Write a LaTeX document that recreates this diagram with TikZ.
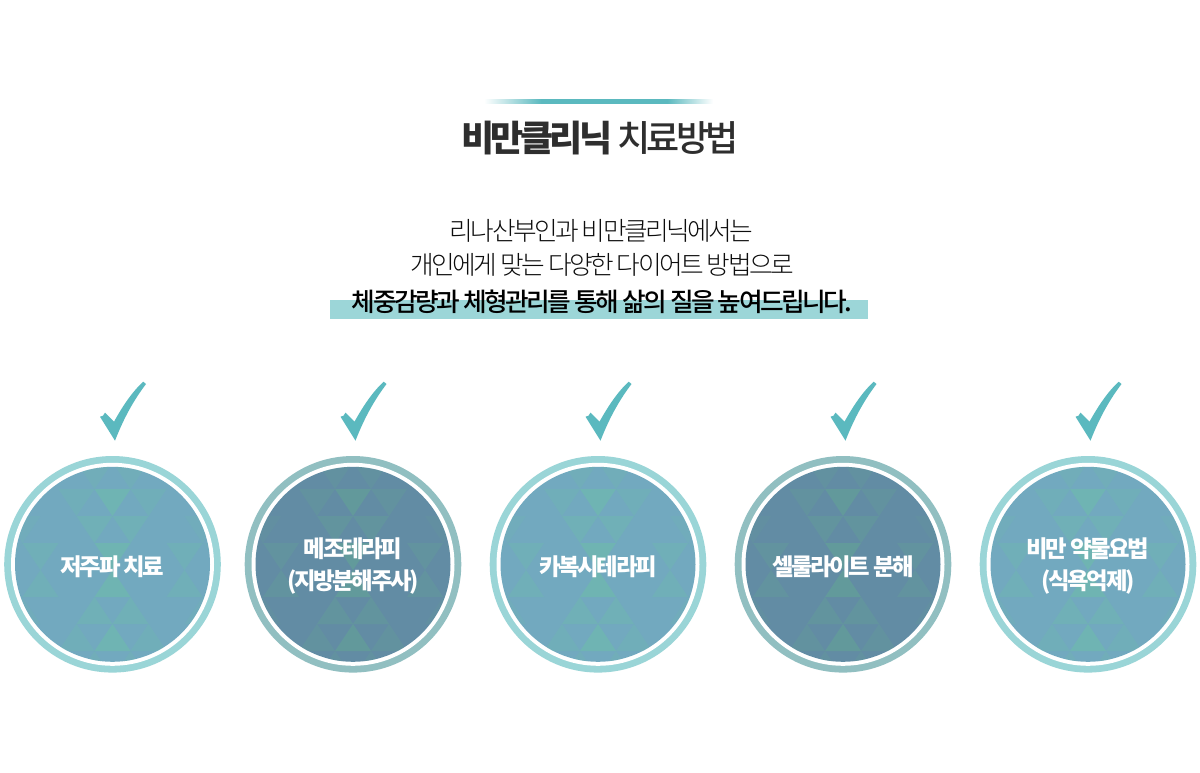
\documentclass[tikz,border=0pt]{standalone}
\usepackage{fontspec}
\setmainfont[LetterSpace=-10,UprightFont=* Light,BoldFont=*]{Noto Sans CJK KR}
\newfontfamily\medfont[LetterSpace=-10,UprightFont=* Medium]{Noto Sans CJK KR}
\usetikzlibrary{calc}
\definecolor{tealbar}{HTML}{5BB9BF}
\definecolor{markbar}{HTML}{9CD6D8}
\definecolor{ringa}{HTML}{9AD5D7}
\definecolor{ringb}{HTML}{91BFC1}
\definecolor{disca}{HTML}{72A9BF}
\definecolor{discb}{HTML}{628CA4}
\definecolor{tria}{HTML}{6FB9AE}
\definecolor{trib}{HTML}{639F98}
\pgfdeclarehorizontalshading{fadebar}{100bp}{
  color(0bp)=(white); color(25bp)=(white); color(37.5bp)=(tealbar);
  color(65bp)=(tealbar); color(75bp)=(white); color(100bp)=(white)}
\tikzset{ ring/.style = { circle
                        , inner sep    = 0pt
                        , minimum size = 216.6pt
                        },
          gap/.style  = { circle
                        , fill         = white
                        , inner sep    = 0pt
                        , minimum size = 203pt
                        },
          disc/.style = { circle
                        , inner sep    = 0pt
                        , minimum size = 195pt
                        },
          tag/.style  = { inner sep = 0pt
                        , text      = white
                        , align     = center
                        , font      = \fontsize{23.4}{32}\selectfont\medfont\bfseries
                        },
          line/.style = { inner sep = 0pt
                        , font      = \fontsize{25.7}{30}\selectfont
                        }
        }
% #1 name, #2 centre x, #3 ring, #4 disc, #5 triangles, #6 text
\newcommand{\medal}[6]{
  \node[ring, fill=#3] (ring#1) at (#2,564.3) {};
  \node[gap] (gap#1) at (ring#1) {};
  \node[disc, fill=#4] (disc#1) at (ring#1) {};
  \begin{scope}
    \clip (#2,564.3) circle (97.5);
    % triangles are mirrored about the row line below the centre
    \foreach \tc/\tr/\to in {0/1/.75, 4/1/.4, -4/1/.4, 6/1/.1, -6/1/.1,
                             1/2/.45, -1/2/.45, 5/2/.2, -5/2/.2,
                             0/3/.7, 2/3/.35, -2/3/.35,
                             1/4/.3, -1/4/.3} {
      \fill[#5, opacity=\to] ({#2+(\tc-1)*18},{570-\tr*27}) -- ({#2+(\tc+1)*18},{570-\tr*27})
        -- ({#2+\tc*18},{570-(\tr-1)*27}) -- cycle;
      \fill[#5, opacity=\to] ({#2+(\tc-1)*18},{570+\tr*27}) -- ({#2+(\tc+1)*18},{570+\tr*27})
        -- ({#2+\tc*18},{570+(\tr-1)*27}) -- cycle;
    }
  \end{scope}
  \node[tag] (tag#1) at (#2,566.3) {#6};
  \fill[tealbar, shift={(#2,564.3)}]
    (2.5,-123.6) -- (-12.5,-147.6) -- (-9.5,-148.6) -- (-7.5,-151.6) -- (1.5,-142.6)
    .. controls (10,-158) and (20,-173) .. (30.8,-182.6)
    -- (33.5,-180.3) .. controls (22,-165) and (12,-148) .. (2.5,-123.6) -- cycle;
}
\begin{document}
\begin{tikzpicture}[x=1pt, y=-1pt]
  \useasboundingbox (0,0) rectangle (1200,773);
  \fill[white] (0,0) rectangle (1200,773);
  \shade[shading=fadebar] (484,99.5) rectangle (713,104);
  \node[inner sep=0pt, text=black!82] (title) at (600,138)
    {\fontsize{36}{42}\selectfont\medfont\bfseries 비만클리닉 \mdseries 치료방법};
  \fill[markbar] (330,300) rectangle (868,319);
  \node[line, text=black!95] (lineA) at (601.5,230.5) {리나산부인과 비만클리닉에서는};
  \node[line, text=black!95] (lineB) at (602,265) {개인에게 맞는 다양한 다이어트 방법으로};
  \node[line, text=black] (lineC) at (602,302) {\medfont 체중감량과 체형관리를 통해 삶의 질을 높여드립니다.};
  \medal{A}{112.5}{ringa}{disca}{tria}{저주파 치료}
  \medal{B}{353}{ringb}{discb}{trib}{메조테라피\\(지방분해주사)}
  \medal{C}{598}{ringa}{disca}{tria}{카복시테라피}
  \medal{D}{843}{ringb}{discb}{trib}{셀룰라이트 분해}
  \medal{E}{1088}{ringa}{disca}{tria}{비만 약물요법\\(식욕억제)}
\end{tikzpicture}
\end{document}
